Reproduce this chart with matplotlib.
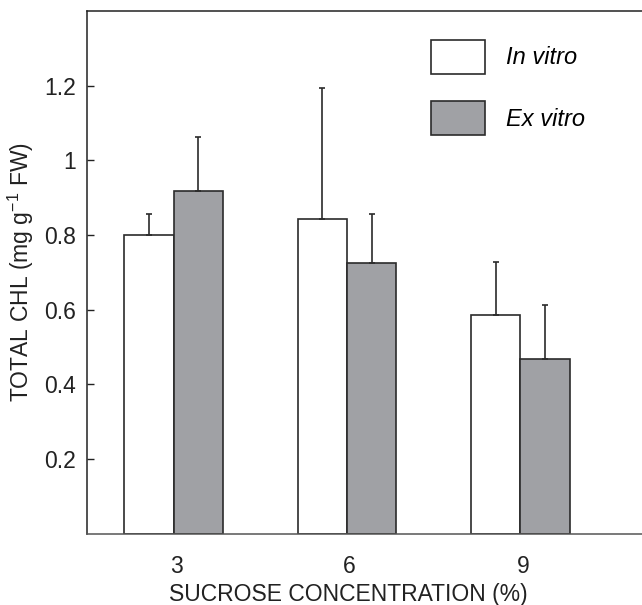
import numpy as np
import matplotlib
matplotlib.use("Agg")
import matplotlib.pyplot as plt
from matplotlib.patches import Patch

plt.rcParams['font.family'] = ['Liberation Sans', 'DejaVu Sans']
plt.rcParams['mathtext.fontset'] = 'custom'
plt.rcParams['mathtext.rm'] = 'Liberation Sans'
plt.rcParams['mathtext.it'] = 'Liberation Sans:italic'

# datos
sacarosa = ['3', '6', '9']
in_vitro = [0.80, 0.843, 0.587]
in_vitro_err = [0.055, 0.352, 0.140]
ex_vitro = [0.918, 0.724, 0.467]
ex_vitro_err = [0.145, 0.133, 0.146]

gris = '#a0a1a5'
borde = '#2b2b2b'
texto = '#222222'

fig = plt.figure(figsize=(6.42, 6.05), dpi=100)
ax_ancho = 1 - 87/642 + 0.01
ax = fig.add_axes([87/642, 1 - 533.7/605, ax_ancho, (533.7 - 11)/605])

x = np.arange(len(sacarosa))
w = 0.285

ax.bar(x - w/2, in_vitro, w, color='white', edgecolor=borde, linewidth=1.2,
       yerr=[np.zeros(3), in_vitro_err], error_kw=dict(ecolor=borde, elinewidth=1.2, capsize=2.5, capthick=1.2),
       label='In vitro', zorder=2)
ax.bar(x + w/2, ex_vitro, w, color=gris, edgecolor=borde, linewidth=1.2,
       yerr=[np.zeros(3), ex_vitro_err], error_kw=dict(ecolor=borde, elinewidth=1.2, capsize=2.5, capthick=1.2),
       label='Ex vitro', zorder=2)

ax.set_xlim(-0.5, 2.74)
ax.set_ylim(0, 1.4)
ax.set_xticks(x + 0.015)
ax.set_xticklabels(sacarosa)
ax.set_yticks([0.2, 0.4, 0.6, 0.8, 1.0, 1.2])
ax.set_yticklabels(['0.2', '0.4', '0.6', '0.8', '1', '1.2'])
ax.tick_params(axis='y', direction='in', length=5, width=1, labelsize=16.5, pad=8, colors=texto)
ax.tick_params(axis='x', length=0, labelsize=16.5, pad=15, colors=texto)

ax.spines['right'].set_visible(False)
ax.spines['left'].set_color(texto)
ax.spines['top'].set_color(texto)
ax.spines['bottom'].set_color('#555555')
for s in ax.spines.values():
    s.set_linewidth(1.1)

ax.set_xlabel('SUCROSE CONCENTRATION (%)', fontsize=16.5, color=texto, labelpad=4)
ax.xaxis.set_label_coords((348 - 87) / (ax_ancho * 642), -0.095)
ax.set_ylabel(r'TOTAL CHL (mg g$^{-1}$ FW)', fontsize=16.5, color=texto, labelpad=6)

handles = [Patch(facecolor='white', edgecolor=borde, linewidth=1.2),
           Patch(facecolor=gris, edgecolor=borde, linewidth=1.2)]
leg = ax.legend(handles, ['In vitro', 'Ex vitro'], loc='upper left',
                bbox_to_anchor=(419/642, 1 - 28/605), bbox_transform=fig.transFigure,
                frameon=False, borderpad=0, prop={'style': 'italic', 'size': 17},
                handlelength=2.3, handleheight=1.85, labelspacing=1.15, handletextpad=0.9)

fig.savefig('out.png', dpi=100)
